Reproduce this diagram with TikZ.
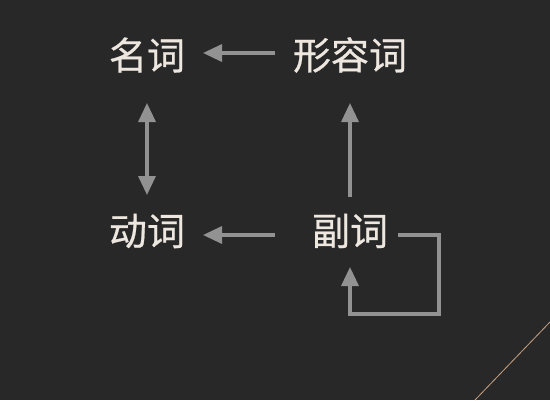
\documentclass[tikz,border=0pt]{standalone}
\usepackage{fontspec}
\newfontfamily\cjk[FakeBold=0.6]{Noto Sans CJK SC}
\usetikzlibrary{arrows.meta}
\definecolor{bgc}{HTML}{282828}
\definecolor{txtc}{HTML}{EDE7E0}
\definecolor{arrc}{HTML}{929292}
\definecolor{linec}{HTML}{C9A283}
\tikzset{
  word/.style={inner sep=0pt, text=txtc, font=\cjk\fontsize{38}{40}\selectfont},
  arr/.style={draw=arrc, line width=3.3pt, -{Triangle[length=19pt,width=17pt]}},
  darr/.style={draw=arrc, line width=3.3pt, {Triangle[length=19pt,width=17pt]}-{Triangle[length=19pt,width=17pt]}}
}
\begin{document}
\begin{tikzpicture}[x=1pt,y=-1pt]
\fill[bgc] (0,0) rectangle (550,400);
\useasboundingbox (0,0) rectangle (550,400);
\node[word] (noun) at (147,55) {名词};
\node[word] (adj)  at (350,55) {形容词};
\node[word] (verb) at (147,231) {动词};
\node[word] (adv)  at (350,231) {副词};
\coordinate (lp1) at (439,314);
\draw[arr, shorten <=75pt, shorten >=56pt] ([yshift=2pt]adj.center) -- ([yshift=2pt]noun.center);
\draw[arr, shorten <=75pt, shorten >=56pt] ([yshift=-4pt]adv.center) -- ([yshift=-4pt]verb.center);
\draw[darr, shorten <=48pt, shorten >=36pt] (noun.center) -- (verb.center);
\draw[arr, shorten <=34pt, shorten >=48pt] (adv.center) -- (adj.center);
\draw[arr, shorten <=48pt, shorten >=36pt] ([yshift=-4pt]adv.center) -| (lp1) -| (adv.center);
\coordinate (d1) at (550,322);
\coordinate (d2) at (475,400);
\draw[linec, line width=0.8pt] (d1) -- (d2);
\end{tikzpicture}
\end{document}
